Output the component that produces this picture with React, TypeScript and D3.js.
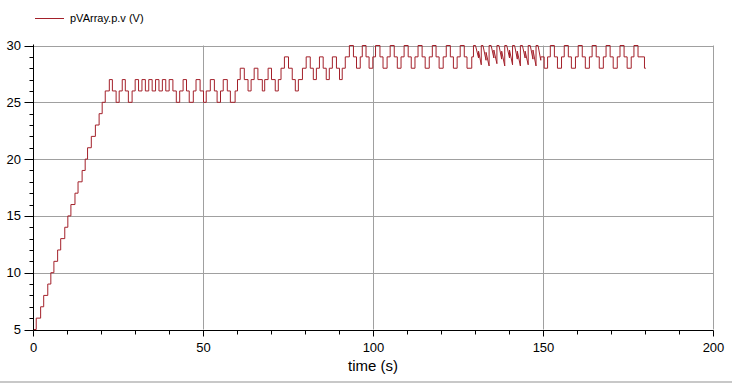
import React from "react";
import * as d3 from "d3";

// ---- data ----
const seriesName = "pVArray.p.v (V)";
const xLabel = "time (s)";
const xTicks = [0, 50, 100, 150, 200];
const yTicks = [5, 10, 15, 20, 25, 30];

// step segment A: value holds from time[i] until time[i+1]
const stepATimes = [
  0, 0.8, 2.1, 3.0, 4.2, 5.1, 6.0, 7.1, 8.0, 9.2, 10.1, 11.0, 12.2, 13.1, 14.3, 15.2, 15.9, 17.0, 18.2, 19.3,
  20.2, 21.1, 22.3, 23.2, 24.3, 25.2, 26.1, 27.0, 27.9, 29.0, 29.9, 30.9, 31.9, 32.9, 33.9, 34.9, 35.9, 36.9,
  37.9, 38.9, 39.9, 41.0, 42.0, 43.0, 44.0, 45.0, 45.8, 47.0, 47.8, 49.0, 50.0, 50.8, 52.0, 53.2, 54.0, 55.0,
  55.8, 57.0, 57.9, 59.3, 60.0, 60.8, 62.0, 63.1, 64.0, 64.9, 66.0, 67.3, 68.0, 69.0, 70.0, 71.1, 72.0, 72.8,
  73.8, 75.0, 76.1, 77.0, 77.9, 79.1, 80.2, 81.4, 82.3, 83.2, 84.1, 85.2, 86.1, 87.0, 87.9, 89.1, 90.0, 90.8,
  91.7, 92.9, 94.1, 95.0, 96.1, 96.7, 97.8, 98.7, 99.8, 100.6, 101.9, 102.8, 104.0, 104.9, 106.1, 107.0, 108.1,
  109.0, 110.2, 111.1, 112.2, 113.1, 114.3, 115.2, 116.4, 117.3, 118.4, 119.3, 120.5, 121.4, 122.6, 123.5,
  124.6, 125.5, 126.7, 127.5, 128.9, 129.4,
];
const stepAValues = [
  5, 6, 7, 8, 9, 10, 11, 12, 13, 14, 15, 16, 17, 18, 19, 20, 21, 22, 23, 24,
  25, 26, 27, 26, 25, 26, 27, 26, 25, 26, 27, 26, 27, 26, 27, 26, 27, 26,
  27, 26, 27, 26, 25, 26, 27, 26, 25, 26, 27, 26, 25, 26, 27, 26, 25, 26,
  27, 26, 25, 26, 27, 28, 27, 26, 27, 28, 27, 26, 27, 28, 27, 26, 27, 28,
  29, 28, 27, 26, 27, 28, 29, 28, 27, 28, 29, 28, 27, 28, 29, 28, 27, 28,
  29, 30, 29, 28, 29, 30, 29, 28, 29, 30, 29, 28, 29, 30, 29, 28, 29,
  30, 29, 28, 29, 30, 29, 28, 29, 30, 29, 28, 29, 30, 29, 28,
  29, 30, 29, 28, 29, 29,
];

// irregular (sawtooth) segment, drawn point to point
const zigTimes = [
  129.4, 129.4, 130.0, 130.9, 130.9, 131.7, 131.7, 132.2, 133.1, 133.1, 134.0, 134.0, 134.6, 135.4, 135.4,
  136.3, 136.3, 136.9, 137.7, 137.7, 138.6, 138.6, 139.2, 140.0, 140.0, 140.9, 140.9, 141.5, 142.3, 142.3,
  143.2, 143.2, 143.8, 144.6, 144.6, 145.5, 145.5, 146.1, 146.9, 146.9, 147.8, 147.8, 148.4, 149.2, 149.2,
];
const zigValues = [
  29, 30, 30, 28.9, 29.5, 28.3, 30, 30, 28.7, 29.4, 28.2, 30, 30, 28.9, 29.6,
  28.4, 30, 30, 28.8, 29.5, 28.2, 30, 30, 28.9, 29.6, 28.3, 30, 30, 28.8, 29.5,
  28.2, 30, 30, 28.9, 29.5, 28.3, 30, 30, 28.8, 29.6, 28.2, 30, 30, 28.7, 29,
];

// step segment C
const stepCTimes = [
  149.2, 150.2, 151.2, 152.0, 153.2, 154.1, 155.3, 156.1, 157.3, 158.2, 159.4, 160.2, 161.4, 162.3, 163.5,
  164.3, 165.5, 166.4, 167.6, 168.4, 169.6, 170.5, 171.7, 172.5, 173.7, 174.6, 175.8, 176.6, 177.8, 179.7, 180.1,
];
const stepCValues = [
  29, 28, 29, 30, 29, 28, 29, 30, 29, 28, 29, 30, 29, 28, 29,
  30, 29, 28, 29, 30, 29, 28, 29, 30, 29, 28, 29, 30, 29, 28, 28,
];

const W = 732;
const H = 384;
const COLOR = "#a3202a";
const GRID = "#a0a0a0";
const FONT = "'Liberation Sans', Arial, sans-serif";

export default function App() {
  const x = d3.scaleLinear().domain([0, 200]).range([33.5, 713.5]);
  const y = d3.scaleLinear().domain([5, 30]).range([329.5, 45.5]);

  const stepLine = d3
    .line<[number, number]>()
    .x((d) => x(d[0]))
    .y((d) => y(d[1]))
    .curve(d3.curveStepAfter);
  const linLine = d3
    .line<[number, number]>()
    .x((d) => x(d[0]))
    .y((d) => y(d[1]));

  const a = stepATimes.map((t, i) => [t, stepAValues[i]] as [number, number]);
  const z = zigTimes.map((t, i) => [t, zigValues[i]] as [number, number]);
  const c = stepCTimes.map((t, i) => [t, stepCValues[i]] as [number, number]);

  const xMinor = d3.range(0, 201, 10);
  const yMinor = d3.range(5, 31, 1);
  const x0 = x(0);
  const x1 = x(200);
  const yTop = y(30);
  const yBot = y(5);

  return (
    <svg
      width={W}
      height={H}
      style={{ position: "absolute", left: 0, top: 0, background: "#fff" }}
    >
      <rect x={0} y={0} width={W} height={H} fill="#fff" />
      {/* legend */}
      <line x1={35} x2={64} y1={18.5} y2={18.5} stroke={COLOR} strokeWidth={1} />
      <text x={70} y={22} fontFamily={FONT} fontSize={11} fill="#000">
        {seriesName}
      </text>

      {/* grid */}
      {yTicks.filter((v) => v !== 5).map((v) => (
        <line key={"gy" + v} x1={x0} x2={x1} y1={Math.round(y(v)) + 0.5} y2={Math.round(y(v)) + 0.5} stroke={GRID} />
      ))}
      {xTicks.filter((v) => v !== 0).map((v) => (
        <line key={"gx" + v} x1={x(v)} x2={x(v)} y1={yTop} y2={yBot} stroke={GRID} />
      ))}

      {/* series */}
      <path d={stepLine(a) || ""} fill="none" stroke={COLOR} strokeWidth={1} />
      <path d={linLine(z) || ""} fill="none" stroke={COLOR} strokeWidth={1} />
      <path d={stepLine(c) || ""} fill="none" stroke={COLOR} strokeWidth={1} />

      {/* axes */}
      <line x1={x0} x2={x0} y1={yTop - 1} y2={yBot + 1} stroke="#000" />
      <line x1={x0} x2={x1} y1={yBot + 1} y2={yBot + 1} stroke="#000" />
      {yMinor.map((v) => {
        const major = v % 5 === 0;
        const yy = Math.round(y(v)) + 0.5;
        return <line key={"ty" + v} x1={x0 - (major ? 9 : 4)} x2={x0} y1={yy} y2={yy} stroke="#000" />;
      })}
      {xMinor.map((v) => {
        const major = v % 50 === 0;
        return (
          <line key={"tx" + v} x1={x(v)} x2={x(v)} y1={yBot + 1} y2={yBot + 1 + (major ? 6 : 4)} stroke="#000" />
        );
      })}
      {yTicks.map((v) => (
        <text key={"ly" + v} x={21} y={y(v) + 4.5} textAnchor="end" fontFamily={FONT} fontSize={13} fill="#000">
          {v}
        </text>
      ))}
      {xTicks.map((v) => (
        <text key={"lx" + v} x={x(v)} y={352} textAnchor="middle" fontFamily={FONT} fontSize={13} fill="#000">
          {v}
        </text>
      ))}
      <text x={373} y={371} textAnchor="middle" fontFamily={FONT} fontSize={15} fill="#000">
        {xLabel}
      </text>
      <line x1={0} x2={W} y1={382} y2={382} stroke="#c8c8c8" strokeWidth={2} />
    </svg>
  );
}
